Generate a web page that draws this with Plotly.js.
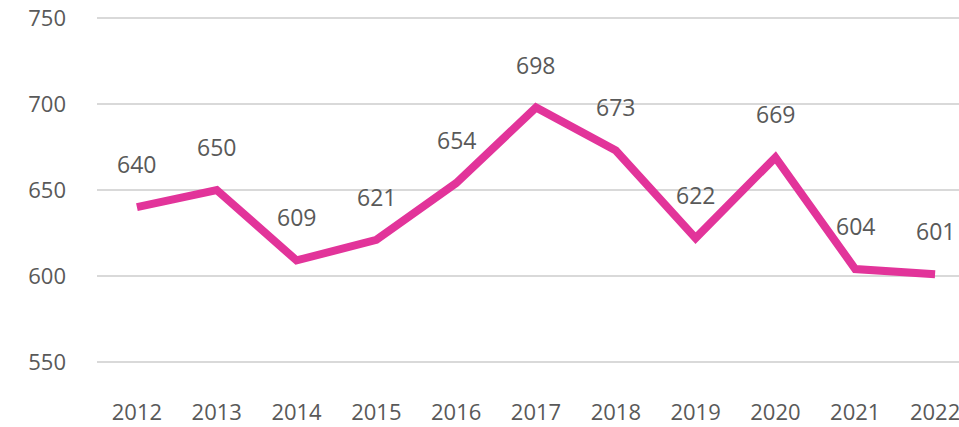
<!DOCTYPE html>
<html>
<head>
<meta charset="utf-8">
<script src="https://cdn.plot.ly/plotly-3.0.1.min.js"></script>
<style>
  html, body { margin: 0; padding: 0; background: #fff; }
  #chart { width: 959px; height: 427px; }
</style>
</head>
<body>
<div id="chart"></div>
<script>
var years = ['2012', '2013', '2014', '2015', '2016', '2017', '2018', '2019', '2020', '2021', '2022']
var values = [640, 650, 609, 621, 654, 698, 673, 622, 669, 604, 601]
var yTicks = [550, 600, 650, 700, 750]

var textColor = '#595959'
var pink = '#E2349A'
var fontFam = 'Open Sans, sans-serif'

var trace = {
    x: years,
    y: values,
    type: 'scatter',
    mode: 'lines',
    line: { color: pink, width: 8 },
    hoverinfo: 'none'
}

// value labels above each point (x given as category index)
var labels = years.map(function (yr, i) {
    return {
        x: i,
        y: values[i],
        xref: 'x',
        yref: 'y',
        text: String(values[i]),
        showarrow: false,
        yanchor: 'middle',
        yshift: 43,
        font: { family: fontFam, size: 23, color: textColor }
    }
})

var layout = {
    width: 959,
    height: 427,
    margin: { l: 97, r: 0, t: 13, b: 60 },
    paper_bgcolor: '#fff',
    plot_bgcolor: '#fff',
    showlegend: false,
    xaxis: {
        type: 'category',
        range: [-0.5, 10.3],
        automargin: false,
        showgrid: false,
        zeroline: false,
        showline: false,
        ticks: '',
        ticklabelstandoff: 30,
        tickfont: { family: fontFam, size: 22, color: textColor }
    },
    yaxis: {
        range: [547, 753],
        tickvals: yTicks,
        automargin: false,
        showgrid: true,
        gridcolor: '#D9D9D9',
        gridwidth: 2.5,
        zeroline: false,
        showline: false,
        ticks: '',
        ticklabelstandoff: 30,
        tickfont: { family: fontFam, size: 22, color: textColor }
    },
    annotations: labels
}

Plotly.newPlot('chart', [trace], layout, { displayModeBar: false, staticPlot: true })
</script>
</body>
</html>
